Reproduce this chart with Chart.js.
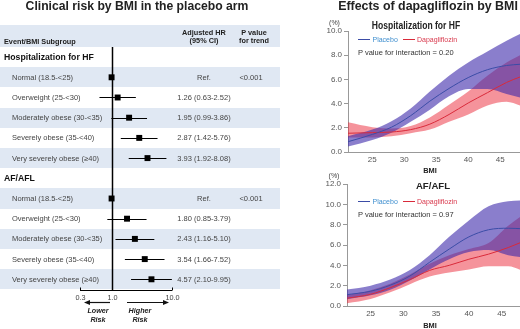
<!DOCTYPE html>
<html><head><meta charset="utf-8">
<script src="https://cdn.jsdelivr.net/npm/chart.js@4.4.0/dist/chart.umd.min.js"></script>
<style>
html,body{margin:0;padding:0;background:#fff;}
#root{position:relative;width:520px;height:329px;overflow:hidden;font-family:"Liberation Sans",Arial,sans-serif;}
.t{position:absolute;white-space:nowrap;line-height:1;}
.band{position:absolute;background:#e0e8f3;}
canvas{position:absolute;}
</style></head><body><div id="root"></div>
<script>
// ---------------- DATA ----------------
const events = ['Hospitalization for HF', 'AF/AFL'];
const subgroups = ['Normal (18.5-<25)', 'Overweight (25-<30)', 'Moderately obese (30-<35)', 'Severely obese (35-<40)', 'Very severely obese (\u226540)'];
const hfHR = [1, 1.26, 1.95, 2.87, 3.93];
const hfLo = [null, 0.63, 0.99, 1.42, 1.92];
const hfHi = [null, 2.52, 3.86, 5.76, 8.08];
const afHR = [1, 1.80, 2.43, 3.54, 4.57];
const afLo = [null, 0.85, 1.16, 1.66, 2.10];
const afHi = [null, 3.79, 5.10, 7.52, 9.95];
const pTrend = ['<0.001', '<0.001'];
const forestTicks = [0.3, 1, 10];

const bmi = [21.2, 25, 28, 31, 34, 37, 40, 43, 46, 48.1];
const hfPlacebo      = [0.85, 1.45, 2.05, 3.0, 4.2, 5.25, 6.15, 6.8, 7.15, 7.25];
const hfPlaceboUpper = [1.3, 1.85, 2.55, 3.6, 5.0, 6.3, 7.4, 8.3, 9.2, 9.75];
const hfPlaceboLower = [0.45, 1.0, 1.6, 2.5, 3.5, 4.6, 5.2, 5.2, 4.8, 4.5];
const hfDapa         = [1.55, 1.6, 1.65, 1.85, 2.3, 3.1, 4.05, 4.9, 5.75, 6.2];
const hfDapaUpper    = [2.45, 2.05, 1.95, 2.15, 2.85, 3.9, 5.0, 6.3, 7.4, 8.0];
const hfDapaLower    = [1.2, 1.2, 1.3, 1.55, 1.85, 2.5, 3.1, 3.85, 4.15, 3.85];
const afPlacebo      = [1.1, 1.45, 2.05, 2.95, 4.3, 5.6, 6.8, 7.5, 7.65, 7.6];
const afPlaceboUpper = [1.6, 2.0, 2.6, 3.55, 5.0, 6.8, 8.4, 9.8, 10.3, 10.4];
const afPlaceboLower = [0.65, 1.05, 1.6, 2.5, 3.6, 4.6, 5.3, 5.5, 5.0, 4.8];
const afDapa         = [0.75, 1.15, 1.8, 2.6, 3.5, 4.0, 4.6, 5.1, 5.75, 6.3];
const afDapaUpper    = [1.05, 1.55, 2.2, 3.1, 4.15, 5.0, 5.6, 6.2, 7.9, 8.9];
const afDapaLower    = [0.25, 0.7, 1.35, 2.15, 2.9, 3.3, 3.6, 3.9, 3.9, 3.5];
const bmiTicks = [25, 30, 35, 40, 45];
const pInteraction = ['0.20', '0.97'];

// ---------------- helpers ----------------
const root = document.getElementById('root');
const FONT = '"Liberation Sans", Arial, sans-serif';
function text(x, base, str, o) {
  o = o || {};
  const fs = o.size || 7.5;
  const d = document.createElement('div');
  d.className = 't';
  d.textContent = str;
  d.style.fontSize = fs + 'px';
  d.style.top = (base - 0.8465 * fs) + 'px';
  d.style.left = x + 'px';
  d.style.color = o.color || '#444';
  if (o.bold) d.style.fontWeight = 'bold';
  if (o.italic) d.style.fontStyle = 'italic';
  let tr = '';
  let origin = 'left';
  if (o.align === 'center') { tr += 'translateX(-50%) '; origin = 'center'; }
  if (o.align === 'right') { tr += 'translateX(-100%) '; origin = 'right'; }
  if (o.sx) tr += 'scaleX(' + o.sx + ')';
  if (tr) { d.style.transform = tr; d.style.transformOrigin = origin + ' center'; }
  root.appendChild(d);
  return d;
}
function box(cls, l, t, w, h, bg) {
  const d = document.createElement('div');
  d.className = cls;
  Object.assign(d.style, {position: 'absolute', left: l + 'px', top: t + 'px', width: w + 'px', height: h + 'px'});
  if (bg) d.style.background = bg;
  root.appendChild(d);
}
function canvas(l, t, w, h) {
  const c = document.createElement('canvas');
  c.width = w; c.height = h;
  Object.assign(c.style, {left: l + 'px', top: t + 'px', width: w + 'px', height: h + 'px'});
  root.appendChild(c);
  return c;
}

// ---------------- LEFT: forest table ----------------
const ROW0 = 47, ROWH = 20.2;
const rows = [];
[[hfHR, hfLo, hfHi], [afHR, afLo, afHi]].forEach((g, e) => {
  rows.push({type: 'event', label: events[e]});
  subgroups.forEach((s, i) => rows.push({type: 'sub', label: s, hr: g[0][i], lo: g[1][i], hi: g[2][i], p: i === 0 ? pTrend[e] : ''}));
});

box('band', 0, 25, 280, 22);
rows.forEach((r, i) => { if (i % 2 === 1) box('band', 0, ROW0 + ROWH * i, 280, ROWH); });

const fc = canvas(0, 0, 280, 329);
const forestPts = [], ciRows = [];
rows.forEach((r, i) => {
  if (r.type === 'sub') {
    forestPts.push({x: r.hr, y: i});
    if (r.lo != null) ciRows.push({y: i, lo: r.lo, hi: r.hi});
  }
});
const forestDecor = {
  id: 'forestDecor',
  beforeDatasetsDraw(chart) {
    const {ctx, chartArea: a, scales: {x, y}} = chart;
    ctx.save();
    ctx.strokeStyle = '#000';
    ctx.lineWidth = 1.5;
    const x1 = Math.round(x.getPixelForValue(1)) + 0.5;
    ctx.beginPath(); ctx.moveTo(x1, a.top); ctx.lineTo(x1, a.bottom); ctx.stroke();
    ctx.lineWidth = 1.1;
    ciRows.forEach(c => {
      const yy = Math.round(y.getPixelForValue(c.y)) + 0.5;
      ctx.beginPath(); ctx.moveTo(x.getPixelForValue(c.lo), yy); ctx.lineTo(x.getPixelForValue(c.hi), yy); ctx.stroke();
    });
    // axis
    ctx.lineWidth = 1;
    const yb = a.bottom + 0.5;
    ctx.beginPath(); ctx.moveTo(x.getPixelForValue(forestTicks[0]), yb); ctx.lineTo(x.getPixelForValue(forestTicks[forestTicks.length - 1]), yb); ctx.stroke();
    ctx.fillStyle = '#444';
    ctx.font = '7.3px ' + FONT;
    ctx.textAlign = 'center';
    ctx.textBaseline = 'alphabetic';
    forestTicks.forEach(t => {
      const px = Math.round(x.getPixelForValue(t)) + 0.5;
      ctx.beginPath(); ctx.moveTo(px, yb); ctx.lineTo(px, yb - 3); ctx.stroke();
      ctx.fillText(t.toFixed(1), px, a.bottom + 9.5);
    });
    ctx.restore();
  }
};
new Chart(fc, {
  type: 'scatter',
  data: {datasets: [{data: forestPts, pointStyle: 'rect', pointRadius: 4.2, backgroundColor: '#000', borderColor: '#000', borderWidth: 0}]},
  options: {
    responsive: false, animation: false, devicePixelRatio: 1,
    layout: {padding: {left: 80, right: 108, top: 47, bottom: 39}},
    plugins: {legend: {display: false}, tooltip: {enabled: false}},
    scales: {
      x: {type: 'logarithmic', min: 0.3, max: 10, display: false},
      y: {type: 'linear', min: -0.5, max: 11.53, reverse: true, display: false}
    }
  },
  plugins: [forestDecor]
});

// arrows
const svgNS = 'http://www.w3.org/2000/svg';
const svg = document.createElementNS(svgNS, 'svg');
svg.setAttribute('width', 280); svg.setAttribute('height', 329);
svg.style.position = 'absolute'; svg.style.left = '0'; svg.style.top = '0';
svg.innerHTML =
  '<line x1="110" y1="302.5" x2="89" y2="302.5" stroke="#111" stroke-width="1.2"/>' +
  '<polygon points="84,302.5 90,300 90,305" fill="#111"/>' +
  '<line x1="127" y1="302.5" x2="164" y2="302.5" stroke="#111" stroke-width="1.2"/>' +
  '<polygon points="169,302.5 163,300 163,305" fill="#111"/>';
root.appendChild(svg);

text(137, 10.3, 'Clinical risk by BMI in the placebo arm', {size: 12.2, bold: true, color: '#222', align: 'center'});
text(4, 44.3, 'Event/BMI Subgroup', {size: 7.3, bold: true, color: '#222'});
text(204, 35, 'Adjusted HR', {size: 7.3, bold: true, color: '#222', align: 'center'});
text(204, 43.5, '(95% CI)', {size: 7.3, bold: true, color: '#222', align: 'center'});
text(254, 35, 'P value', {size: 7.3, bold: true, color: '#222', align: 'center'});
text(254, 43.5, 'for trend', {size: 7.3, bold: true, color: '#222', align: 'center'});
rows.forEach((r, i) => {
  const c = ROW0 + ROWH * i + ROWH / 2;
  if (r.type === 'event') {
    text(4, c + 3.4, r.label, {size: 8.7, bold: true, color: '#111'});
  } else {
    text(12, c + 2.9, r.label, {size: 7.5, color: '#444'});
    const s = r.lo == null ? 'Ref.' : r.hr.toFixed(2) + ' (' + r.lo.toFixed(2) + '-' + r.hi.toFixed(2) + ')';
    text(204, c + 2.9, s, {size: 7.5, color: '#444', align: 'center'});
    if (r.p) text(251, c + 2.9, r.p, {size: 7.5, color: '#444', align: 'center'});
  }
});
text(98, 312.7, 'Lower', {size: 7.2, bold: true, italic: true, color: '#222', align: 'center'});
text(98, 321.7, 'Risk', {size: 7.2, bold: true, italic: true, color: '#222', align: 'center'});
text(140, 312.7, 'Higher', {size: 7.2, bold: true, italic: true, color: '#222', align: 'center'});
text(140, 321.7, 'Risk', {size: 7.2, bold: true, italic: true, color: '#222', align: 'center'});

// ---------------- RIGHT: spline charts ----------------
const BLUE_LINE = '#3b4ca6', RED_LINE = '#d92a3a';
const BLUE_BAND = 'rgba(60,40,170,0.6)', RED_BAND = 'rgba(235,40,55,0.5)';
function pts(arr) { return bmi.map((x, i) => ({x: x, y: arr[i]})); }
function spline(cv, cfg) {
  const base = {pointRadius: 0, cubicInterpolationMode: 'monotone', fill: false};
  return new Chart(cv, {
    type: 'line',
    data: {datasets: [
      Object.assign({}, base, {label: 'Placebo', data: pts(cfg.pl), borderColor: BLUE_LINE, borderWidth: 1, order: 1}),
      Object.assign({}, base, {label: 'Dapagliflozin', data: pts(cfg.da), borderColor: RED_LINE, borderWidth: 1, order: 1}),
      Object.assign({}, base, {data: pts(cfg.plU), borderWidth: 0, borderColor: 'rgba(0,0,0,0)', backgroundColor: BLUE_BAND, fill: 3, order: 2}),
      Object.assign({}, base, {data: pts(cfg.plL), borderWidth: 0, borderColor: 'rgba(0,0,0,0)', order: 2}),
      Object.assign({}, base, {data: pts(cfg.daU), borderWidth: 0, borderColor: 'rgba(0,0,0,0)', backgroundColor: RED_BAND, fill: 5, order: 3}),
      Object.assign({}, base, {data: pts(cfg.daL), borderWidth: 0, borderColor: 'rgba(0,0,0,0)', order: 3})
    ]},
    options: {
      responsive: false, animation: false, devicePixelRatio: 1,
      layout: {padding: {top: cfg.padTop, right: 0, left: 0, bottom: 0}},
      plugins: {legend: {display: false}, tooltip: {enabled: false}, filler: {propagate: false}},
      scales: {
        x: {type: 'linear', min: cfg.xmin, max: cfg.xmax,
            grid: {display: false, drawTicks: false}, border: {display: true, color: '#999'},
            ticks: {font: {family: FONT, size: 8}, color: '#555', padding: 3, autoSkip: false, maxRotation: 0},
            afterBuildTicks: s => { s.ticks = bmiTicks.map(v => ({value: v})); },
            afterFit: s => { s.height = 23; }},
        y: {min: 0, max: cfg.ymax,
            grid: {drawOnChartArea: false, drawTicks: true, tickLength: 4, color: '#999'}, border: {color: '#999'},
            ticks: {stepSize: 2, font: {family: FONT, size: 8}, color: '#555', padding: 2, callback: v => v.toFixed(1)},
            afterFit: s => { s.width = cfg.yw; }}
      }
    }
  });
}
spline(canvas(300, 0, 220, 175), {pl: hfPlacebo, plU: hfPlaceboUpper, plL: hfPlaceboLower, da: hfDapa, daU: hfDapaUpper, daL: hfDapaLower,
  padTop: 31, ymax: 10, yw: 48, xmin: 21.2, xmax: 48.1});
spline(canvas(300, 170, 220, 159), {pl: afPlacebo, plU: afPlaceboUpper, plL: afPlaceboLower, da: afDapa, daU: afDapaUpper, daL: afDapaLower,
  padTop: 14, ymax: 12, yw: 47, xmin: 21.4, xmax: 47.8});

text(428, 10, 'Effects of dapagliflozin by BMI', {size: 12.4, bold: true, color: '#222', align: 'center'});
text(415.5, 29.3, 'Hospitalization for HF', {size: 10.2, bold: true, color: '#222', align: 'center', sx: 0.84});
text(433, 189.3, 'AF/AFL', {size: 9.6, bold: true, color: '#222', align: 'center'});
text(334.5, 24.5, '(%)', {size: 7, color: '#444', align: 'center'});
text(334, 178, '(%)', {size: 7, color: '#444', align: 'center'});
text(430, 173.3, 'BMI', {size: 7.4, bold: true, color: '#222', align: 'center'});
text(430, 328.3, 'BMI', {size: 7.4, bold: true, color: '#222', align: 'center'});

function legend(base, p) {
  box('lg', 358, base - 3, 12, 1.4, BLUE_LINE);
  text(372.5, base, 'Placebo', {size: 7, color: '#3f8fcf'});
  box('lg', 403, base - 3, 12, 1.4, RED_LINE);
  text(417, base, 'Dapagliflozin', {size: 7, color: '#d93a4e'});
  text(358, base + 13.5, 'P value for interaction = ' + p, {size: 7.5, color: '#333'});
}
legend(41.7, pInteraction[0]);
legend(204, pInteraction[1]);
</script></body></html>
